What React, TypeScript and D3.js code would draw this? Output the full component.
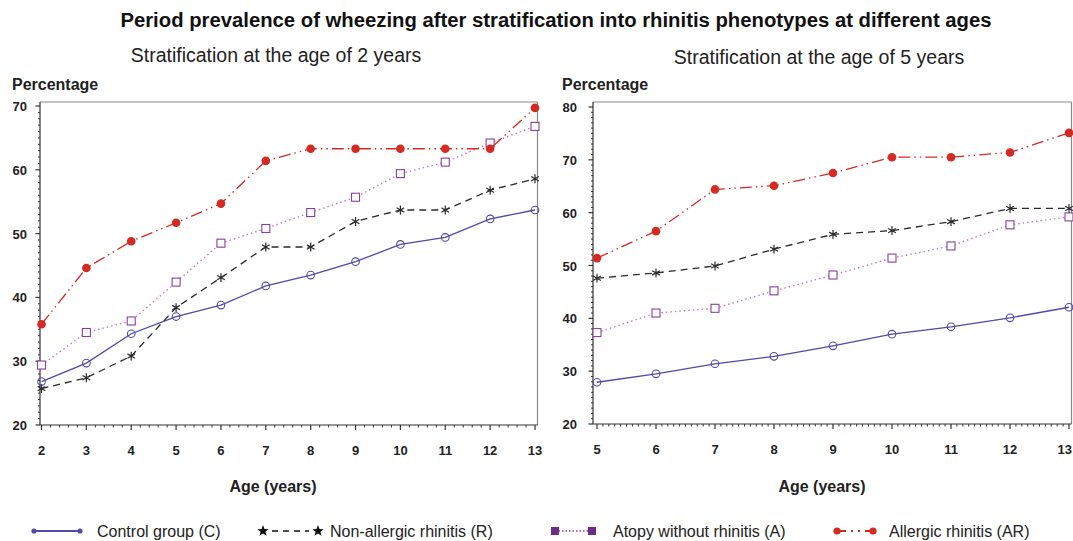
import React from "react";
import * as d3 from "d3";

// Wheezing prevalence (%) by age, stratified at 2 years
const ages2 = [2, 3, 4, 5, 6, 7, 8, 9, 10, 11, 12, 13];
const control2 = [26.8, 29.7, 34.3, 37.0, 38.8, 41.8, 43.5, 45.6, 48.3, 49.4, 52.3, 53.7];
const nonAllergic2 = [25.7, 27.4, 30.8, 38.4, 43.1, 47.9, 47.9, 51.9, 53.7, 53.7, 56.8, 58.6];
const atopy2 = [29.4, 34.5, 36.3, 42.4, 48.5, 50.8, 53.3, 55.7, 59.4, 61.2, 64.2, 66.8];
const allergic2 = [35.8, 44.6, 48.8, 51.7, 54.7, 61.4, 63.3, 63.3, 63.3, 63.3, 63.3, 69.7];

// Wheezing prevalence (%) by age, stratified at 5 years
const ages5 = [5, 6, 7, 8, 9, 10, 11, 12, 13];
const control5 = [27.9, 29.5, 31.4, 32.8, 34.8, 37.0, 38.4, 40.1, 42.1];
const nonAllergic5 = [47.6, 48.6, 49.9, 53.1, 55.9, 56.6, 58.3, 60.8, 60.8];
const atopy5 = [37.3, 41.0, 41.9, 45.2, 48.2, 51.4, 53.7, 57.7, 59.2];
const allergic5 = [51.4, 56.5, 64.4, 65.1, 67.5, 70.5, 70.5, 71.4, 75.1];

const yTicks2 = [20, 30, 40, 50, 60, 70];
const yTicks5 = [20, 30, 40, 50, 60, 70, 80];

const seriesNames = [
  "Control group (C)",
  "Non-allergic rhinitis (R)",
  "Atopy without rhinitis (A)",
  "Allergic rhinitis (AR)",
];

const WIDTH = 1073;
const HEIGHT = 541;
const FONT = "'Liberation Sans', Arial, Helvetica, sans-serif";
const C_COLOR = "#4f4aa8";
const R_COLOR = "#2a2a2a";
const A_LINE = "#c57cc0";
const A_MARK = "#8a3f9e";
const AR_COLOR = "#d42a22";
const TICK_COLOR = "#333";

type PanelProps = {
  ages: number[];
  control: number[];
  nonAllergic: number[];
  atopy: number[];
  allergic: number[];
  yTicks: number[];
  frame: { left: number; right: number; top: number; bottom: number };
  xRange: [number, number];
  yRange: [number, number];
  xMinorStep: number;
  yLabelX: number;
  titleX: number;
  title: string;
  titleY: number;
  percentX: number;
  ageLabelX: number;
};

function Panel(p: PanelProps) {
  const x = d3.scaleLinear().domain([p.ages[0], p.ages[p.ages.length - 1]]).range(p.xRange);
  const y = d3
    .scaleLinear()
    .domain([p.yTicks[0], p.yTicks[p.yTicks.length - 1]])
    .range(p.yRange);
  const { left, right, top, bottom } = p.frame;

  const line = d3
    .line<number>()
    .x((_, i) => x(p.ages[i]))
    .y((v) => y(v));

  const xMinor = d3
    .range(p.ages[0], p.ages[p.ages.length - 1] + 1e-6, p.xMinorStep)
    .filter((v) => Math.abs(v - Math.round(v)) > 1e-6);
  const yMinor = d3
    .range(p.yTicks[0], p.yTicks[p.yTicks.length - 1] + 1e-6, 1)
    .filter((v) => v % 10 !== 0);

  const asterisk = d3.symbol().type(d3.symbolAsterisk).size(55)();

  return (
    <g>
      <text x={p.titleX} y={p.titleY} textAnchor="middle" fontSize={19.5} fill="#222" fontFamily={FONT}>
        {p.title}
      </text>
      <text x={p.percentX} y={90} fontSize={16} fontWeight="bold" fill="#222" fontFamily={FONT}>
        Percentage
      </text>

      {/* plot frame */}
      <line x1={left} x2={right} y1={top} y2={top} stroke="#8a8a8a" strokeWidth={1.2} />
      <line x1={right} x2={right} y1={top} y2={bottom} stroke="#8a8a8a" strokeWidth={1.2} />
      <line x1={left} x2={left} y1={top} y2={bottom} stroke={TICK_COLOR} strokeWidth={1.2} />
      <line x1={left} x2={right} y1={bottom} y2={bottom} stroke={TICK_COLOR} strokeWidth={1.2} />

      {/* y axis */}
      {yMinor.map((v) => (
        <line key={"ym" + v} x1={left - 2} x2={left} y1={y(v)} y2={y(v)} stroke={TICK_COLOR} strokeWidth={1} />
      ))}
      {p.yTicks.map((v) => (
        <g key={"yt" + v}>
          <line x1={left - 4.5} x2={left} y1={y(v)} y2={y(v)} stroke={TICK_COLOR} strokeWidth={1.2} />
          <text
            x={p.yLabelX}
            y={y(v) + 5}
            textAnchor="end"
            fontSize={13}
            fontWeight="bold"
            fill="#222"
            fontFamily={FONT}
          >
            {v}
          </text>
        </g>
      ))}

      {/* x axis */}
      {xMinor.map((v) => (
        <line key={"xm" + v} x1={x(v)} x2={x(v)} y1={bottom} y2={bottom + 2.5} stroke={TICK_COLOR} strokeWidth={1} />
      ))}
      {p.ages.map((a) => {
        // keep the last label inside the page
        const atEdge = x(a) + 8 > WIDTH;
        return (
          <g key={"xt" + a}>
            <line x1={x(a)} x2={x(a)} y1={bottom} y2={bottom + 5} stroke={TICK_COLOR} strokeWidth={1.2} />
            <text
              x={atEdge ? WIDTH - 1 : x(a)}
              y={bottom + 30}
              textAnchor={atEdge ? "end" : "middle"}
              fontSize={13}
              fontWeight="bold"
              fill="#222"
              fontFamily={FONT}
            >
              {a}
            </text>
          </g>
        );
      })}
      <text x={p.ageLabelX} y={492} textAnchor="middle" fontSize={16} fontWeight="bold" fill="#222" fontFamily={FONT}>
        Age (years)
      </text>

      {/* Control group */}
      <path d={line(p.control) ?? ""} fill="none" stroke={C_COLOR} strokeWidth={1.3} />
      {p.control.map((v, i) => (
        <circle key={"c" + i} cx={x(p.ages[i])} cy={y(v)} r={3.8} fill="white" fillOpacity={0} stroke={C_COLOR} strokeWidth={1.1} />
      ))}

      {/* Non-allergic rhinitis */}
      <path d={line(p.nonAllergic) ?? ""} fill="none" stroke={R_COLOR} strokeWidth={1.3} strokeDasharray="7,5" />
      {p.nonAllergic.map((v, i) => (
        <path
          key={"r" + i}
          d={asterisk ?? ""}
          transform={`translate(${x(p.ages[i])},${y(v)})`}
          fill="none"
          stroke={R_COLOR}
          strokeWidth={1.2}
        />
      ))}

      {/* Atopy without rhinitis */}
      <path d={line(p.atopy) ?? ""} fill="none" stroke={A_LINE} strokeWidth={1.4} strokeDasharray="1.5,3" />
      {p.atopy.map((v, i) => (
        <rect
          key={"a" + i}
          x={x(p.ages[i]) - 4}
          y={y(v) - 4}
          width={8}
          height={8}
          fill="white"
          stroke={A_MARK}
          strokeWidth={1.1}
        />
      ))}

      {/* Allergic rhinitis */}
      <path d={line(p.allergic) ?? ""} fill="none" stroke={AR_COLOR} strokeWidth={1.3} strokeDasharray="12,4,1.5,4,1.5,4" />
      {p.allergic.map((v, i) => (
        <circle key={"ar" + i} cx={x(p.ages[i])} cy={y(v)} r={4.3} fill={AR_COLOR} />
      ))}
    </g>
  );
}

function Star({ cx, cy, r }: { cx: number; cy: number; r: number }) {
  const pts = d3.range(10).map((i) => {
    const ang = -Math.PI / 2 + (i * Math.PI) / 5;
    const rad = i % 2 === 0 ? r : r * 0.42;
    return [cx + rad * Math.cos(ang), cy + rad * Math.sin(ang)].join(",");
  });
  return <polygon points={pts.join(" ")} fill="#111" />;
}

export default function App() {
  const ly = 531;
  return (
    <svg
      width={WIDTH}
      height={HEIGHT}
      style={{ position: "absolute", left: 0, top: 0, background: "white" }}
      fontFamily={FONT}
    >
      <rect width={WIDTH} height={HEIGHT} fill="white" />
      <text x={556} y={27} textAnchor="middle" fontSize={20.3} fontWeight="bold" fill="#111" fontFamily={FONT}>
        Period prevalence of wheezing after stratification into rhinitis phenotypes at different ages
      </text>

      <Panel
        ages={ages2}
        control={control2}
        nonAllergic={nonAllergic2}
        atopy={atopy2}
        allergic={allergic2}
        yTicks={yTicks2}
        frame={{ left: 40, right: 537.5, top: 102, bottom: 425 }}
        xRange={[41.5, 535]}
        yRange={[425, 106]}
        xMinorStep={0.2}
        yLabelX={27}
        title="Stratification at the age of 2 years"
        titleX={276}
        titleY={62}
        percentX={12}
        ageLabelX={273}
      />
      <Panel
        ages={ages5}
        control={control5}
        nonAllergic={nonAllergic5}
        atopy={atopy5}
        allergic={allergic5}
        yTicks={yTicks5}
        frame={{ left: 593, right: 1071.5, top: 102, bottom: 424 }}
        xRange={[597, 1069]}
        yRange={[424, 107]}
        xMinorStep={0.1}
        yLabelX={577}
        title="Stratification at the age of 5 years"
        titleX={819}
        titleY={64}
        percentX={562}
        ageLabelX={822}
      />

      {/* legend */}
      <g>
        <line x1={34} x2={80} y1={ly} y2={ly} stroke={C_COLOR} strokeWidth={1.8} />
        <circle cx={34} cy={ly} r={2.6} fill={C_COLOR} />
        <circle cx={80} cy={ly} r={2.6} fill={C_COLOR} />
        <text x={97} y={ly + 6} fontSize={16} fill="#222" fontFamily={FONT}>
          {seriesNames[0]}
        </text>

        <Star cx={263} cy={ly} r={6} />
        <line x1={272} x2={309} y1={ly} y2={ly} stroke="#111" strokeWidth={1.6} strokeDasharray="6,5" />
        <Star cx={318} cy={ly} r={6} />
        <text x={330} y={ly + 6} fontSize={16} fill="#222" fontFamily={FONT}>
          {seriesNames[1]}
        </text>

        <line x1={555} x2={592} y1={ly} y2={ly} stroke={A_MARK} strokeWidth={1.6} strokeDasharray="1.5,2" />
        <rect x={551} y={ly - 4} width={8} height={8} fill="#6e2a88" />
        <rect x={588} y={ly - 4} width={8} height={8} fill="#6e2a88" />
        <text x={613} y={ly + 6} fontSize={16} fill="#222" fontFamily={FONT}>
          {seriesNames[2]}
        </text>

        <line x1={837} x2={872} y1={ly} y2={ly} stroke={AR_COLOR} strokeWidth={1.8} strokeDasharray="9,5,2,5,2,5" />
        <circle cx={837} cy={ly} r={3.6} fill={AR_COLOR} />
        <circle cx={873} cy={ly} r={3.6} fill={AR_COLOR} />
        <text x={889} y={ly + 6} fontSize={16} fill="#222" fontFamily={FONT}>
          {seriesNames[3]}
        </text>
      </g>
    </svg>
  );
}
